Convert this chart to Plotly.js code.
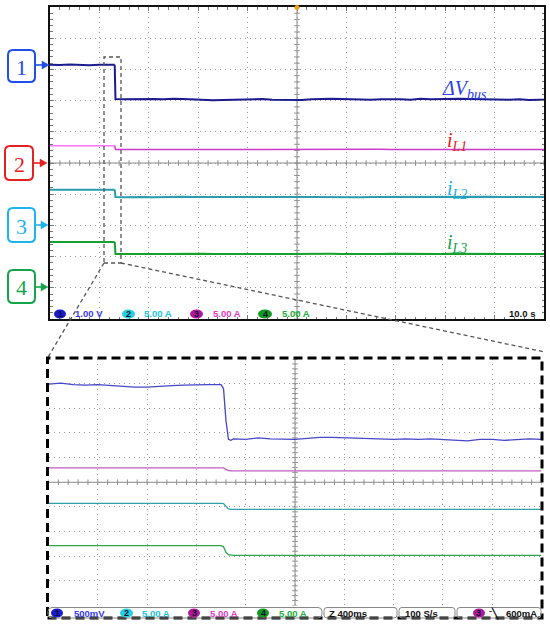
<!DOCTYPE html>
<html>
<head>
<meta charset="utf-8">
<script src="https://cdn.plot.ly/plotly-3.0.1.min.js"></script>
<style>html,body{margin:0;padding:0;background:#fff;}#chart{width:550px;height:629px;}</style>
</head>
<body>
<div id="chart"></div>
<script>
// ---------------- data (physical units: V for ΔVbus, A for currents) ----------------
const topTime = [0,2,4,6,8,10,12,13.1,13.25,15,17,19,21,23,25,27,29,31,33,35,37,39,41,43,45,47,49,51,53,55,57,59,61,63,65,67,69,71,73,75,77,79,81,83,85,87,89,91,93,95,97,99,100];
const topDV = [0.01,0.00,0.02,0.00,-0.01,0.01,0.00,0.01,
  -1.09,-1.10,-1.09,-1.10,-1.09,
  -1.10,-1.08,-1.09,-1.10,-1.13,
  -1.13,-1.12,-1.11,-1.10,-1.10,
  -1.09,-1.11,-1.12,-1.11,-1.12,
  -1.10,-1.08,-1.08,-1.09,-1.10,
  -1.09,-1.11,-1.10,-1.09,-1.10,
  -1.11,-1.08,-1.10,-1.09,-1.10,
  -1.08,-1.09,-1.10,-1.10,-1.12,
  -1.11,-1.10,-1.12,-1.11,-1.11];
const topIL1 = [2.77,2.77,2.78,2.77,2.77,2.77,2.76,2.77,
  2.18,2.17,2.18,2.18,2.19,
  2.18,2.18,2.17,2.18,2.18,
  2.18,2.19,2.18,2.18,2.17,
  2.18,2.18,2.18,2.19,2.18,
  2.18,2.18,2.17,2.18,2.18,
  2.18,2.18,2.19,2.18,2.18,
  2.17,2.18,2.18,2.18,2.18,
  2.19,2.18,2.18,2.18,2.17,
  2.18,2.18,2.18,2.18,2.18];
const topIL2 = [5.72,5.75,5.70,5.73,5.72,5.74,5.71,5.72,
  4.56,4.53,4.57,4.55,4.52,
  4.56,4.54,4.58,4.55,4.53,
  4.55,4.57,4.52,4.56,4.54,
  4.55,4.58,4.53,4.55,4.56,
  4.54,4.52,4.56,4.55,4.57,
  4.53,4.55,4.56,4.54,4.52,
  4.56,4.55,4.57,4.54,4.55,
  4.53,4.56,4.55,4.58,4.54,
  4.55,4.53,4.56,4.55,4.54];
const topIL3 = [7.34,7.36,7.33,7.35,7.34,7.33,7.35,7.34,
  5.43,5.40,5.44,5.42,5.41,
  5.43,5.45,5.41,5.42,5.44,
  5.40,5.42,5.43,5.41,5.44,
  5.42,5.40,5.43,5.42,5.45,
  5.41,5.42,5.44,5.43,5.40,
  5.42,5.43,5.41,5.44,5.42,
  5.40,5.43,5.42,5.41,5.44,
  5.42,5.43,5.40,5.42,5.44,
  5.41,5.43,5.42,5.41,5.43];

const zoomTime = [0,0.1,0.2,0.3,0.4,0.5,0.6,0.7,0.8,0.9,1.0,1.1,1.2,1.3,1.4,
  1.42,1.44,1.46,1.48,
  1.5,1.6,1.7,1.8,1.9,2.0,2.1,2.2,2.3,2.4,2.5,2.6,2.7,2.8,2.9,3.0,3.1,3.2,3.3,3.4,3.5,3.6,3.7,3.8,3.9,4.0];
const zoomDV = [-0.01,0.01,-0.02,-0.03,-0.02,-0.04,-0.05,-0.07,-0.07,-0.05,-0.04,-0.03,-0.02,-0.02,-0.02,
  -0.10,-0.75,-1.13,-1.15,
  -1.12,-1.13,-1.10,-1.12,-1.13,-1.13,-1.11,-1.09,-1.09,-1.10,-1.11,-1.11,-1.12,
  -1.13,-1.12,-1.13,-1.12,-1.13,-1.14,-1.16,-1.13,-1.13,-1.15,-1.13,-1.12,-1.13];
const zoomIL1 = [2.92,2.92,2.93,2.92,2.92,2.92,2.91,2.92,2.92,2.92,2.93,2.92,2.92,2.92,2.92,
  2.90,2.62,2.38,2.32,
  2.30,2.30,2.31,2.30,2.29,2.30,2.30,2.31,2.30,2.30,2.30,2.29,2.30,
  2.30,2.31,2.30,2.30,2.30,2.29,2.30,2.30,2.30,2.31,2.30,2.30,2.30];
const zoomIL2 = [5.71,5.72,5.70,5.71,5.71,5.72,5.71,5.70,5.71,5.71,5.72,5.71,5.71,5.70,5.71,
  5.68,5.10,4.60,4.50,
  4.49,4.48,4.49,4.50,4.49,4.49,4.48,4.49,4.49,4.50,4.49,4.48,4.49,
  4.49,4.50,4.49,4.49,4.48,4.49,4.49,4.50,4.49,4.48,4.49,4.49,4.50];
const zoomIL3 = [7.14,7.15,7.14,7.13,7.14,7.14,7.15,7.14,7.14,7.13,7.14,7.14,7.15,7.14,7.14,
  6.90,5.80,5.30,5.18,
  5.16,5.17,5.16,5.15,5.16,5.16,5.17,5.16,5.16,5.15,5.16,5.17,5.16,
  5.16,5.15,5.16,5.16,5.17,5.16,5.16,5.15,5.16,5.17,5.16,5.16,5.17];

// channel settings (volts or amps per division, ground offset in divisions)
const topScale = [1, 5, 5, 5];
const topOffset = [3.14, 0, -2, -4];
const zoomScale = [0.5, 5, 5, 5];
const zoomOffset = [4, 0, -2, -4];
const topTimePerDiv = 10;
const zoomTimePerDiv = 0.4;

const channelNumbers = ['1', '2', '3', '4'];
const topReadout = ['1.00 V', '5.00 A', '5.00 A', '5.00 A'];
const zoomReadout = ['500mV', '5.00 A', '5.00 A', '5.00 A'];
const topTimebase = '10.0 s';
const zoomTimebase = 'Z 400ms';
const sampleRate = '100 S/s';
const triggerLevel = '600mA';
const signalNames = ['<i>ΔV<sub>bus</sub></i>', '<i>i<sub>L1</sub></i>', '<i>i<sub>L2</sub></i>', '<i>i<sub>L3</sub></i>'];

// ---------------- styling ----------------
const W = 550, H = 629;
const PX = x => x / W;
const PY = y => 1 - y / H;
const topColors = ['#1c1c90', '#cc38cc', '#2a9cae', '#18a02c'];
const topPreColors = ['#1c1c90', '#ff70ff', '#2a9cae', '#18a02c'];
const zoomColors = ['#4646c8', '#c05cc0', '#2ea0a8', '#2ea450'];
const ovalColors = ['#1a1ad0', '#22d0e0', '#b0189c', '#109a20'];
const readColors = ['#3a3af0', '#20c4dc', '#e03cc8', '#20b03c'];
const boxColors = ['#1f4fe6', '#e42020', '#1eb2ee', '#14a44c'];
const nameColors = ['#2a3ff0', '#e41c1c', '#1ab0e8', '#12a04a'];

const toDiv = (vals, scale, off) => vals.map(v => off + v / scale);

const topSeries = [topDV, topIL1, topIL2, topIL3];
const zoomSeries = [zoomDV, zoomIL1, zoomIL2, zoomIL3];
const stepIndex = topTime.indexOf(13.1);

const traces = [];
// graticule centre-line ticks
function centreTicks(xa, ya, tmax, tstep) {
  const xs = [], ys = [], xs2 = [], ys2 = [];
  for (let i = 0; i <= 50; i++) { xs.push(i * tstep); ys.push(0); }
  for (let j = 0; j <= 50; j++) { xs2.push(tmax / 2); ys2.push(-5 + j * 0.2); }
  traces.push({x: xs, y: ys, xaxis: xa, yaxis: ya, mode: 'markers', hoverinfo: 'skip',
    marker: {symbol: 'line-ns', size: 4, line: {color: '#909090', width: 1}}});
  traces.push({x: xs2, y: ys2, xaxis: xa, yaxis: ya, mode: 'markers', hoverinfo: 'skip',
    marker: {symbol: 'line-ew', size: 4, line: {color: '#909090', width: 1}}});
}
centreTicks('x', 'y', 10 * topTimePerDiv, topTimePerDiv / 5);
centreTicks('x2', 'y2', 10 * zoomTimePerDiv, zoomTimePerDiv / 5);

const topWidths = [2, 1.5, 2, 2];
topSeries.forEach((s, i) => {
  const yv = toDiv(s, topScale[i], topOffset[i]);
  traces.push({x: topTime.slice(stepIndex), y: yv.slice(stepIndex), xaxis: 'x', yaxis: 'y',
    mode: 'lines', line: {color: topColors[i], width: topWidths[i]}, hoverinfo: 'skip'});
  traces.push({x: topTime.slice(0, stepIndex + 1), y: yv.slice(0, stepIndex + 1), xaxis: 'x', yaxis: 'y',
    mode: 'lines', line: {color: topPreColors[i], width: topWidths[i]}, hoverinfo: 'skip'});
});
zoomSeries.forEach((s, i) => traces.push({
  x: zoomTime, y: toDiv(s, zoomScale[i], zoomOffset[i]), xaxis: 'x2', yaxis: 'y2',
  mode: 'lines', line: {color: zoomColors[i], width: 1.3}, hoverinfo: 'skip'}));

// ---------------- shapes & annotations ----------------
function rrect(x0, y0, x1, y1, r) {
  const rx = r / W, ry = r / H;
  const a = PX(x0), b = PX(x1), t = PY(y0), u = PY(y1);
  return `M${a + rx},${t} L${b - rx},${t} Q${b},${t} ${b},${t - ry} L${b},${u + ry} Q${b},${u} ${b - rx},${u} L${a + rx},${u} Q${a},${u} ${a},${u + ry} L${a},${t - ry} Q${a},${t} ${a + rx},${t} Z`;
}
const shapes = [];
const annotations = [];

// centre lines
shapes.push({type: 'line', xref: 'x', yref: 'y', x0: 0, x1: 100, y0: 0, y1: 0, line: {color: '#8a8a8a', width: 1}, layer: 'below'});
shapes.push({type: 'line', xref: 'x', yref: 'y', x0: 50, x1: 50, y0: -5, y1: 5, line: {color: '#8a8a8a', width: 1}, layer: 'below'});
shapes.push({type: 'line', xref: 'x2', yref: 'y2', x0: 0, x1: 4, y0: 0, y1: 0, line: {color: '#8a8a8a', width: 1}, layer: 'below'});
shapes.push({type: 'line', xref: 'x2', yref: 'y2', x0: 2, x1: 2, y0: -5, y1: 5, line: {color: '#8a8a8a', width: 1}, layer: 'below'});

// zoom marker box on top scope and connecting lines
shapes.push({type: 'rect', xref: 'paper', yref: 'paper', x0: PX(104), x1: PX(121), y0: PY(263), y1: PY(57),
  line: {color: '#555', width: 1.3, dash: '4px,3px'}});
shapes.push({type: 'line', xref: 'paper', yref: 'paper', x0: PX(104), y0: PY(263), x1: PX(47.5), y1: PY(358),
  line: {color: '#555', width: 1.3, dash: '4px,3px'}});
shapes.push({type: 'line', xref: 'paper', yref: 'paper', x0: PX(121), y0: PY(263), x1: PX(545), y1: PY(352),
  line: {color: '#555', width: 1.3, dash: '4px,3px'}});

// thick dashed border of zoom panel
shapes.push({type: 'rect', xref: 'paper', yref: 'paper', x0: PX(47.5), x1: PX(542), y0: PY(618), y1: PY(358),
  line: {color: '#000', width: 3, dash: '9px,5px'}});

// trigger marker
shapes.push({type: 'circle', xref: 'paper', yref: 'paper', x0: PX(294.5), x1: PX(299.5), y0: PY(10), y1: PY(5),
  fillcolor: '#f0a020', line: {width: 0}});

// channel boxes with arrows
const boxes = [[8, 50, 35, 82, 65, 49], [5, 146, 33, 180, 163, 47], [8, 208, 35, 242, 225, 48], [8, 270, 35, 303, 287, 48]];
boxes.forEach((b, i) => {
  shapes.push({type: 'path', xref: 'paper', yref: 'paper', path: rrect(b[0], b[1], b[2], b[3], 5),
    line: {color: boxColors[i], width: 2}, fillcolor: 'rgba(0,0,0,0)'});
  annotations.push({xref: 'paper', yref: 'paper', x: PX((b[0] + b[2]) / 2), y: PY((b[1] + b[3]) / 2 + 1),
    text: channelNumbers[i], showarrow: false, xanchor: 'center', yanchor: 'middle',
    font: {family: 'Liberation Serif, DejaVu Serif, serif', size: 22, color: boxColors[i]}});
  const tip = b[5], yy = b[4];
  shapes.push({type: 'line', xref: 'paper', yref: 'paper', x0: PX(b[2]), x1: PX(tip - 5), y0: PY(yy), y1: PY(yy),
    line: {color: boxColors[i], width: 1.6}});
  shapes.push({type: 'path', xref: 'paper', yref: 'paper',
    path: `M${PX(tip)},${PY(yy)} L${PX(tip - 7)},${PY(yy - 4)} L${PX(tip - 7)},${PY(yy + 4)} Z`,
    fillcolor: boxColors[i], line: {color: boxColors[i], width: 0.5}});
});

// signal names
const namePos = [[440, 90], [445, 141], [445, 189], [445, 243]];
signalNames.forEach((n, i) => annotations.push({xref: 'paper', yref: 'paper', x: PX(namePos[i][0]), y: PY(namePos[i][1]),
  text: n, showarrow: false, xanchor: 'left', yanchor: 'middle',
  font: {family: 'Liberation Serif, DejaVu Serif, serif', size: 20, color: nameColors[i]}}));

// readout bars
const roFont = (c, s) => ({family: 'Liberation Sans, Arial, sans-serif', size: s || 9.5, color: c});
const B = t => '<b>' + t + '</b>';
function readoutRow(yc, ovalX, textX, labels) {
  ovalX.forEach((ox, i) => {
    shapes.push({type: 'circle', xref: 'paper', yref: 'paper', x0: PX(ox[0]), x1: PX(ox[1]), y0: PY(yc + 4.5), y1: PY(yc - 4.5),
      fillcolor: ovalColors[i], line: {width: 0}});
    annotations.push({xref: 'paper', yref: 'paper', x: PX((ox[0] + ox[1]) / 2), y: PY(yc), text: B(channelNumbers[i]),
      showarrow: false, xanchor: 'center', yanchor: 'middle', font: roFont('#101030', 9)});
    annotations.push({xref: 'paper', yref: 'paper', x: PX(textX[i]), y: PY(yc), text: B(labels[i]),
      showarrow: false, xanchor: 'left', yanchor: 'middle', font: roFont(readColors[i])});
  });
}
readoutRow(314, [[54, 66], [122, 135], [190, 203], [258, 272]], [73, 142, 211, 280], topReadout);
annotations.push({xref: 'paper', yref: 'paper', x: PX(537), y: PY(314), text: B(topTimebase), showarrow: false,
  xanchor: 'right', yanchor: 'middle', font: roFont('#111')});

readoutRow(613, [[51, 63], [120, 133], [188, 200], [257, 269]], [72, 140, 208, 277], zoomReadout);
shapes.push({type: 'path', xref: 'paper', yref: 'paper', path: rrect(48, 607.5, 322, 618, 4), line: {color: '#888', width: 1}});
shapes.push({type: 'path', xref: 'paper', yref: 'paper', path: rrect(324, 607.5, 397, 618, 3), line: {color: '#888', width: 1}});
shapes.push({type: 'path', xref: 'paper', yref: 'paper', path: rrect(399, 607.5, 455, 618, 3), line: {color: '#888', width: 1}});
shapes.push({type: 'path', xref: 'paper', yref: 'paper', path: rrect(457, 607.5, 541, 618, 3), line: {color: '#888', width: 1}});
annotations.push({xref: 'paper', yref: 'paper', x: PX(327), y: PY(613), text: B(zoomTimebase), showarrow: false,
  xanchor: 'left', yanchor: 'middle', font: roFont('#111')});
annotations.push({xref: 'paper', yref: 'paper', x: PX(403), y: PY(613), text: B(sampleRate), showarrow: false,
  xanchor: 'left', yanchor: 'middle', font: roFont('#111')});
shapes.push({type: 'circle', xref: 'paper', yref: 'paper', x0: PX(473), x1: PX(485), y0: PY(617.5), y1: PY(608.5),
  fillcolor: ovalColors[2], line: {width: 0}});
annotations.push({xref: 'paper', yref: 'paper', x: PX(479), y: PY(613), text: B(channelNumbers[2]), showarrow: false,
  xanchor: 'center', yanchor: 'middle', font: roFont('#101030', 9)});
annotations.push({xref: 'paper', yref: 'paper', x: PX(494), y: PY(613), text: B('ˉ╲'), showarrow: false,
  xanchor: 'center', yanchor: 'middle', font: roFont('#111')});
annotations.push({xref: 'paper', yref: 'paper', x: PX(539), y: PY(613), text: B(triggerLevel), showarrow: false,
  xanchor: 'right', yanchor: 'middle', font: roFont('#111')});

// ---------------- axes ----------------
const gridStyle = {showgrid: true, gridcolor: '#9a9a9a', gridwidth: 1, griddash: '1px,4px', zeroline: false,
  showticklabels: false};
const layout = {
  width: W, height: H, margin: {l: 0, r: 0, t: 0, b: 0},
  paper_bgcolor: '#fff', plot_bgcolor: '#fff', showlegend: false,
  xaxis: Object.assign({}, gridStyle, {domain: [PX(50), PX(544)], range: [0, 10 * topTimePerDiv], dtick: topTimePerDiv,
    showline: true, linecolor: '#111', linewidth: 2, mirror: 'allticks', ticks: 'inside', ticklen: 4, tickcolor: '#777',
    minor: {dtick: topTimePerDiv / 5, ticks: 'inside', ticklen: 2.5, tickcolor: '#777', showgrid: false}}),
  yaxis: Object.assign({}, gridStyle, {domain: [PY(319), PY(7)], range: [-5, 5], dtick: 1,
    showline: true, linecolor: '#111', linewidth: 2, mirror: 'allticks', ticks: 'inside', ticklen: 4, tickcolor: '#777',
    minor: {dtick: 0.2, ticks: 'inside', ticklen: 2.5, tickcolor: '#777', showgrid: false}}),
  xaxis2: Object.assign({}, gridStyle, {domain: [PX(48.5), PX(541.5)], range: [0, 10 * zoomTimePerDiv], dtick: zoomTimePerDiv,
    anchor: 'y2', showline: false, ticks: ''}),
  yaxis2: Object.assign({}, gridStyle, {domain: [PY(605.5), PY(359)], range: [-5, 5], dtick: 1,
    anchor: 'x2', showline: false, ticks: ''}),
  shapes: shapes,
  annotations: annotations
};

Plotly.newPlot('chart', traces, layout, {displayModeBar: false, staticPlot: true});
</script>
</body>
</html>
